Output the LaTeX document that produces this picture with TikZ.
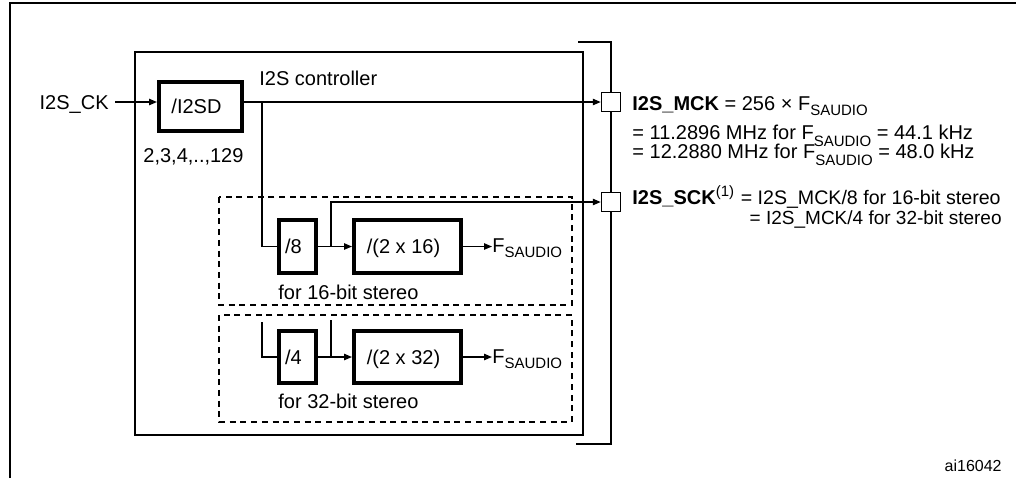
\documentclass[tikz,border=0pt]{standalone}
\usepackage{fontspec}
\setmainfont{Liberation Sans}
\usetikzlibrary{arrows.meta}
\newcommand\FSaudio{F\raisebox{-2.5pt}{\fontsize{7.5}{9}\selectfont SAUDIO}}
\newcommand\FSlow{F\raisebox{-3.5pt}{\fontsize{7.5}{9}\selectfont SAUDIO}}
\begin{document}
\begin{tikzpicture}[x=0.5pt,y=-0.5pt,
  txt/.style={font=\fontsize{10}{12}\selectfont, inner sep=0pt},
  stxt/.style={font=\fontsize{9.5}{11}\selectfont, inner sep=0pt},
  divbox/.style={draw, line width=2pt, font=\fontsize{10}{12}\selectfont, inner sep=0pt,
    text height=7.2pt, text depth=0pt, execute at end node={\hspace*{4pt}}},
  pinbox/.style={draw, fill=white, line width=0.75pt, minimum size=9.5pt, inner sep=0pt},
  wire/.style={line width=0.7pt},
  arr/.style={wire, -{Triangle[length=4pt,width=3.2pt]}},
  frame/.style={line width=0.85pt},
  zone/.style={line width=1pt, dash pattern=on 3pt off 2.35pt},
]
\useasboundingbox (0,0) rectangle (1016,478);
% outer frame
\draw[line width=1.1pt] (10,478) -- (10,3) -- (1016,3);
% controller and bracket
\draw[frame] (135,52) rectangle (583,435);
\draw[frame] (578,42) -- (611,42) -- (611,444) -- (576,444);
% dashed zones
\draw[zone] (219,197) rectangle (572,305);
\draw[zone] (219,315) rectangle (572,422);

% boxes
\node[divbox, minimum width=41.5pt, minimum height=24.5pt] (i2sd) at (200.5,106.5) {/I2SD};
\node[divbox, minimum width=18.5pt, minimum height=26.5pt] (div8) at (297.5,246.5) {/8};
\node[divbox, minimum width=53.5pt, minimum height=26.5pt] (div16) at (407.5,246.5) {/(2 x 16)};
\node[divbox, minimum width=18.5pt, minimum height=26pt] (div4) at (297.5,357) {/4};
\node[divbox, minimum width=53.5pt, minimum height=26pt] (div32) at (407.5,357) {/(2 x 32)};

% pins
\node[pinbox] (mck) at (611,102) {};
\node[pinbox] (sck) at (611,202) {};

% input
\node[txt, anchor=base east, inner xsep=3pt] (ck) at (115,109) {I2S\_CK};
\draw[arr] (ck.east |- mck) -- (i2sd.west |- mck);
\node[txt, anchor=base west] (ctrl) at (259,85) {I2S controller};
\node[txt, anchor=base west] (range) at (143,162) {2,3,4,..,129};

% MCK path
\draw[arr] (i2sd.east |- mck) -- (mck.west);
\coordinate (b1) at (262,102);
\draw[wire] (b1) |- (div8.west);
\draw[arr] (div8.east) -- (div16.west);
\coordinate (b2) at (331,246.5);
\draw[arr] (b2) |- (sck.west);
\node[txt, anchor=base west] (f1) at (492,252) {\FSaudio};
\draw[arr] (div16.east) -- (div16.east -| f1.west);
\node[txt, anchor=base west] (t16) at (278,299) {for 16-bit stereo};

% 32-bit section
\coordinate (c1) at (262,322);
\draw[wire] (c1) |- (div4.west);
\coordinate (c2) at (331,320);
\draw[wire] (c2) -- (c2 |- div4.east);
\draw[arr] (div4.east) -- (div32.west);
\node[txt, anchor=base west] (f2) at (492,363) {\FSaudio};
\draw[arr] (div32.east) -- (div32.east -| f2.west);
\node[txt, anchor=base west] (t32) at (278,408) {for 32-bit stereo};

% right-hand texts
\node[txt, anchor=base west] (m1) at (632,110) {\textbf{I2S\_MCK} = 256 × \FSaudio};
\node[txt, anchor=base west] (m2) at (632,139) {= 11.2896 MHz for \FSlow{} = 44.1 kHz};
\node[txt, anchor=base west] (m3) at (632,158) {= 12.2880 MHz for \FSlow{} = 48.0 kHz};
\node[txt, anchor=base west] (s1) at (632,204) {\textbf{I2S\_SCK}\raisebox{4pt}{\fontsize{7.5}{9}\selectfont (1)}};
\node[font=\fontsize{9.8}{11}\selectfont, inner sep=0pt, anchor=base east] (s1b) at (1001,204) {= I2S\_MCK/8 for 16-bit stereo};
\node[stxt, anchor=base east] (s2) at (1002,224) {= I2S\_MCK/4 for 32-bit stereo};
\node[font=\fontsize{8}{10}\selectfont, inner sep=0pt, anchor=base east] (id) at (1002,471) {ai16042};
\end{tikzpicture}
\end{document}
